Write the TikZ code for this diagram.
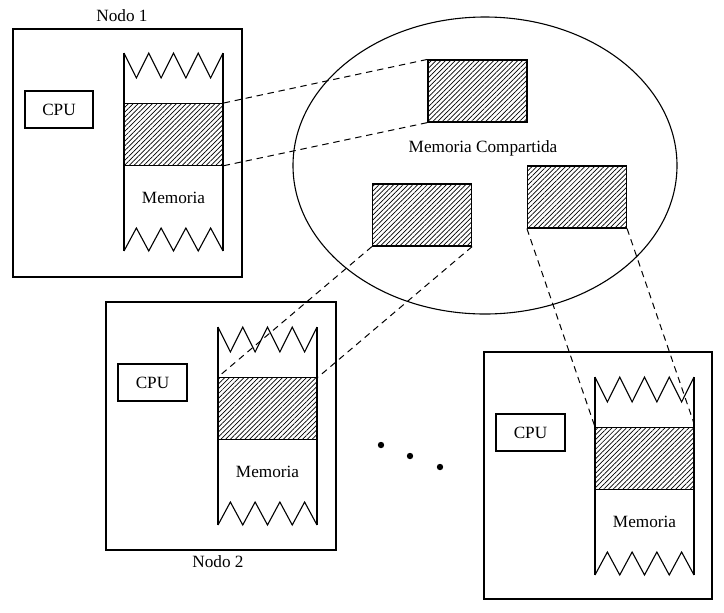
\documentclass[tikz,border=0pt]{standalone}
\usepackage{fontspec}
\setmainfont{Liberation Serif}
\usetikzlibrary{shapes.geometric,patterns.meta}
\tikzset{
  box/.style={draw, line width=0.6pt, inner sep=0pt},
  hatchbox/.style={draw, line width=0.6pt, inner sep=0pt, minimum width=49.5pt, minimum height=31pt,
    pattern={Lines[angle=45, distance=1.7pt, line width=0.35pt]}},
  link/.style={line width=0.5pt, dash pattern=on 3.2pt off 2.4pt},
  lbl/.style={font=\fontsize{8.6}{10}\selectfont, inner sep=0pt},
  dotmark/.style={circle, fill, inner sep=0pt, minimum size=3.2pt},
  zig/.style={line width=0.55pt, line join=miter},
}
\newcommand\MemCol[3]{%
  \begin{scope}[shift={(#2,#3)}]
    \draw[zig] (0,0) -- (0,198) (99,0) -- (99,198);
    \draw[zig] (0,0) -- (12.375,25) -- (24.75,0) -- (37.125,25) -- (49.5,0) -- (61.875,25) -- (74.25,0) -- (86.625,25) -- (99,0);
    \draw[zig] (0,198) -- (12.375,175) -- (24.75,198) -- (37.125,175) -- (49.5,198) -- (61.875,175) -- (74.25,198) -- (86.625,175) -- (99,198);
    \node[hatchbox, anchor=north west] (#1) at (0,50) {};
    \node[lbl] (#1-t) at (49.5,145) {Memoria};
  \end{scope}}
\begin{document}
\begin{tikzpicture}[x=0.5pt,y=-0.5pt]
\useasboundingbox (0,0) rectangle (724,612);
% nodes frames
\node[box, minimum width=114.5pt, minimum height=124pt] (n1) at (127.5,153) {};
\node[box, minimum width=115pt, minimum height=124pt] (n2) at (221,426) {};
\node[box, minimum width=114pt, minimum height=123.5pt] (n3) at (598,475.5) {};
\node[lbl, anchor=base] (n1l) at (122,21) {Nodo 1};
\node[lbl] (n2l) at (218,562) {Nodo 2};
% CPUs
\node[box, minimum width=34pt, minimum height=18.5pt, lbl] (c1) at (59,109.5) {CPU};
\node[box, minimum width=34.5pt, minimum height=18.5pt, lbl] (c2) at (152.5,382.5) {CPU};
\node[box, minimum width=34.5pt, minimum height=18.5pt, lbl] (c3) at (530.5,432.5) {CPU};
% memory columns
\MemCol{h1}{124}{53}
\MemCol{h2}{218}{327}
\MemCol{h3}{595}{377}
% shared memory
\node[draw, ellipse, line width=0.55pt, inner sep=0pt, minimum width=192pt, minimum height=148.5pt] (shm) at (485,165.5) {};
\node[lbl] (shmt) at (483,148) {Memoria Compartida};
\node[hatchbox] (sA) at (477.5,91) {};
\node[hatchbox] (sB) at (422,215) {};
\node[hatchbox] (sC) at (577,197) {};
% links
\draw[link] (h1.north east) -- (sA.north west);
\draw[link] (h1.south east) -- (sA.south west);
\draw[link] (sB.south west) -- (h2.north west);
\draw[link] (sB.south east) -- (h2.north east);
\draw[link] (sC.south west) -- (h3.north west);
\draw[link] (sC.south east) -- (h3.north east);
% dots
\node[dotmark] (d1) at (381,445) {};
\node[dotmark] (d2) at (410,456) {};
\node[dotmark] (d3) at (440,467) {};
\end{tikzpicture}
\end{document}
